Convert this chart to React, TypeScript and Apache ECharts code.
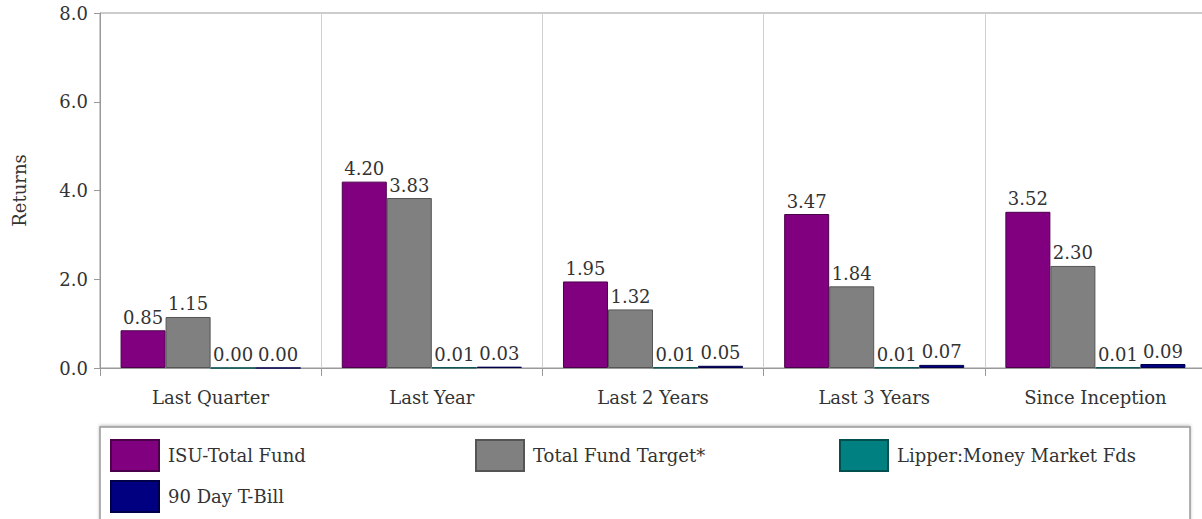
import React, { useEffect, useRef } from "react";
import * as echarts from "echarts";

const categories = ["Last Quarter", "Last Year", "Last 2 Years", "Last 3 Years", "Since Inception"];
const seriesNames = ["ISU-Total Fund", "Total Fund Target*", "Lipper:Money Market Fds", "90 Day T-Bill"];
const isuTotalFund = [0.85, 4.2, 1.95, 3.47, 3.52];
const totalFundTarget = [1.15, 3.83, 1.32, 1.84, 2.3];
const lipperMoneyMarket = [0.0, 0.01, 0.01, 0.01, 0.01];
const tBill90Day = [0.0, 0.03, 0.05, 0.07, 0.09];
const yTicks = { min: 0, max: 8, interval: 2 };

const colors = ["#800080", "#808080", "#008080", "#000080"];
const borders = ["#4a004a", "#555555", "#005050", "#00004a"];
const FONT = "DejaVu Serif";

export default function App() {
  const ref = useRef<HTMLDivElement>(null);
  useEffect(() => {
    document.body.style.margin = "0";
    document.body.style.overflow = "hidden";
    const chart = echarts.init(ref.current!, undefined, { renderer: "svg" });
    const data = [isuTotalFund, totalFundTarget, lipperMoneyMarket, tBill90Day];
    const legendPos = [
      [110, 439],
      [475, 439],
      [839, 439],
      [110, 480],
    ];
    chart.setOption({
      animation: false,
      backgroundColor: "#ffffff",
      grid: {
        left: 100,
        top: 13,
        width: 1106,
        height: 355,
        show: true,
        borderColor: "#999999",
        borderWidth: 1,
      },
      xAxis: {
        type: "category",
        data: categories,
        boundaryGap: true,
        axisLine: { lineStyle: { color: "#999999" } },
        axisTick: { show: true, length: 8, lineStyle: { color: "#999999" } },
        axisLabel: { fontFamily: FONT, fontSize: 18, color: "#333333", margin: 20 },
        splitLine: { show: true, lineStyle: { color: "#d0d0d0" } },
      },
      yAxis: {
        type: "value",
        min: yTicks.min,
        max: yTicks.max,
        interval: yTicks.interval,
        name: "Returns",
        nameLocation: "middle",
        nameGap: 72,
        nameRotate: 90,
        nameTextStyle: { fontFamily: FONT, fontSize: 18, color: "#333333" },
        axisLine: { show: true, lineStyle: { color: "#999999" } },
        axisTick: { show: true, length: 6, lineStyle: { color: "#999999" } },
        axisLabel: {
          fontFamily: FONT,
          fontSize: 18,
          color: "#333333",
          margin: 12,
          formatter: (v: number) => v.toFixed(1),
        },
        splitLine: { show: false },
      },
      legend: seriesNames.map((n, i) => ({
        data: [n],
        left: legendPos[i][0],
        top: legendPos[i][1],
        padding: 0,
        itemWidth: 48,
        itemHeight: 31,
        icon: "rect",
        selectedMode: false,
        textStyle: { fontFamily: FONT, fontSize: 18, color: "#333333", padding: [0, 0, 0, 4] },
      })),
      graphic: [
        {
          type: "rect",
          shape: { x: 100, y: 427, width: 1090, height: 100 },
          style: {
            fill: "#ffffff",
            stroke: "#999999",
            lineWidth: 1.5,
            shadowColor: "rgba(0,0,0,0.25)",
            shadowBlur: 3,
            shadowOffsetY: -1,
          },
          z: -1,
          silent: true,
        },
      ],
      series: seriesNames.map((n, i) => ({
        name: n,
        type: "bar",
        data: data[i],
        barGap: "0%",
        barCategoryGap: "18.6%",
        itemStyle: { color: colors[i], borderColor: borders[i], borderWidth: 1 },
        label: {
          show: true,
          position: "top",
          distance: 4,
          fontFamily: FONT,
          fontSize: 18,
          color: "#333333",
          formatter: (p: any) => Number(p.value).toFixed(2),
        },
      })),
    });
    return () => chart.dispose();
  }, []);
  return <div ref={ref} style={{ width: 1210, height: 519 }} />;
}
